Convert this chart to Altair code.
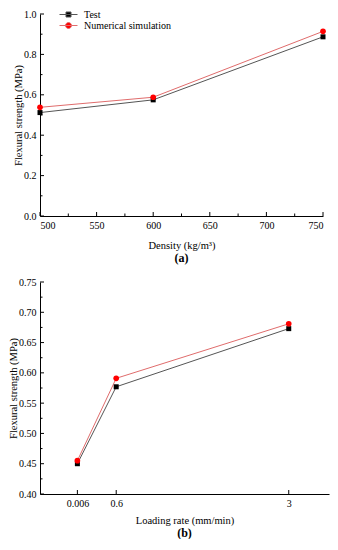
import altair as alt
import pandas as pd

# ---------------- data ----------------
series = ["Test", "Numerical simulation"]

density = [500, 600, 750]
test_a = [0.512, 0.575, 0.887]
sim_a = [0.538, 0.588, 0.914]

rate_pos = [0.06, 0.6, 3.0]
rate_labels = ["0.006", "0.6", "3"]
test_b = [0.450, 0.577, 0.673]
sim_b = [0.455, 0.591, 0.681]

# tick lists
xa_major = [500, 550, 600, 650, 700, 750]
xa_minor = [525, 575, 625, 675, 725]
ya_major = [0.0, 0.2, 0.4, 0.6, 0.8, 1.0]
ya_minor = [0.1, 0.3, 0.5, 0.7, 0.9]

xb_major = [0.06, 0.6, 3.0]
yb_major = [0.40, 0.45, 0.50, 0.55, 0.60, 0.65, 0.70, 0.75]
yb_minor = [0.425, 0.475, 0.525, 0.575, 0.625, 0.675, 0.725]

FONT = "Liberation Serif, Times New Roman, DejaVu Serif, serif"

df_a = pd.DataFrame({
    "x": density * 2,
    "y": test_a + sim_a,
    "series": [series[0]] * 3 + [series[1]] * 3,
})
df_b = pd.DataFrame({
    "x": rate_pos * 2,
    "y": test_b + sim_b,
    "series": [series[0]] * 3 + [series[1]] * 3,
})

LINE_COLORS = ["#555555", "#e06c6c"]
MARK_COLORS = ["#000000", "#ff0000"]
PATH_SQ = "M-1.8,0H1.8M-0.5,-0.5H0.5V0.5H-0.5Z"
PATH_CI = "M-1.8,0H1.8M0.6,0A0.6,0.6,0,1,1,-0.6,0A0.6,0.6,0,1,1,0.6,0Z"


def panel(df, xdomain, xvalues, xlabelexpr, xfmt, xmajor, xminor,
          ydomain, yvalues, yfmt, ymajor, yminor,
          xtitle, xtitlepad, tag, w, h, lx, ly, rowpad):
    xs = alt.Scale(domain=xdomain, nice=False, zero=False)
    ys = alt.Scale(domain=ydomain, nice=False, zero=False)
    stroke_scale = alt.Scale(domain=series, range=LINE_COLORS)
    fill_scale = alt.Scale(domain=series, range=MARK_COLORS)
    shape_scale = alt.Scale(domain=series, range=[PATH_SQ, PATH_CI])

    xaxis_kw = dict(title=xtitle, values=xvalues, ticks=False, grid=False,
                    labelPadding=4, titlePadding=xtitlepad,
                    domainColor="black", labelFontSize=10, titleFontSize=10.5)
    if xlabelexpr:
        xaxis_kw["labelExpr"] = xlabelexpr
    else:
        xaxis_kw["format"] = xfmt
    xaxis = alt.Axis(**xaxis_kw)
    yaxis = alt.Axis(title="Flexural strength (MPa)", values=yvalues, format=yfmt,
                     ticks=False, grid=False, labelPadding=4, titlePadding=0,
                     domainColor="black", labelFontSize=10, titleFontSize=10.5)

    X = alt.X("x:Q", scale=xs, axis=xaxis)
    Y = alt.Y("y:Q", scale=ys, axis=yaxis)

    leg = alt.Legend(title=None, orient="none", legendX=lx, legendY=ly,
                     symbolSize=100, symbolStrokeWidth=1, symbolOpacity=1,
                     labelOffset=10, rowPadding=rowpad, labelFont=FONT,
                     labelFontSize=10, labelColor="black", padding=0)

    base = alt.Chart(df)
    layers = []
    for s, c in zip(series, LINE_COLORS):
        layers.append(base.transform_filter(alt.datum.series == s).mark_line(
            strokeWidth=1, color=c).encode(x=X, y=Y))

    def xt(vals, L):
        return alt.Chart(pd.DataFrame({"x": vals})).mark_rule(
            color="black", strokeWidth=1).encode(
            x=X, y=alt.value(h), y2=alt.value(h - L))

    def yt(vals, L):
        return alt.Chart(pd.DataFrame({"y": vals})).mark_rule(
            color="black", strokeWidth=1).encode(
            y=Y, x=alt.value(0), x2=alt.value(L))

    layers.append(xt(xmajor, 4))
    if xminor:
        layers.append(xt(xminor, 2.5))
    layers.append(yt(ymajor, 4))
    if yminor:
        layers.append(yt(yminor, 2.5))

    layers.append(base.transform_filter(alt.datum.series == series[0]).mark_square(
        size=25, opacity=1, color=MARK_COLORS[0]).encode(x=X, y=Y))
    layers.append(base.transform_filter(alt.datum.series == series[1]).mark_circle(
        size=32, opacity=1, color=MARK_COLORS[1]).encode(x=X, y=Y))
    layers.append(base.mark_point(filled=True, opacity=0).encode(
        x=X, y=Y,
        color=alt.Color("series:N", scale=fill_scale, legend=leg),
        stroke=alt.Stroke("series:N", scale=stroke_scale, legend=leg),
        shape=alt.Shape("series:N", scale=shape_scale, legend=leg)))

    return alt.layer(*layers).properties(
        width=w, height=h,
        title=alt.TitleParams(tag, orient="bottom", fontSize=12, fontWeight="bold",
                              font=FONT, color="black", offset=2),
    )


# bottom x labels expression from the label lists
expr = "'" + rate_labels[-1] + "'"
for p, lab in reversed(list(zip(rate_pos[:-1], rate_labels[:-1]))):
    expr = f"datum.value == {p} ? '{lab}' : " + expr

top = panel(df_a, [500, 750], xa_major, None, "d", xa_major, xa_minor,
            [0, 1.0], ya_major, ".1f", ya_major, ya_minor,
            "Density (kg/m\u00b3)", 10, "(a)", 283, 202, 23, -5, 0)
bottom = panel(df_b, [-0.46, 3.56], xb_major, expr, None, xb_major, None,
               [0.40, 0.75], yb_major, ".2f", yb_major, yb_minor,
               "Loading rate (mm/min)", 7, "(b)", 289, 212, 40, 0, 2)

chart = alt.vconcat(top, bottom, spacing=12, padding=0).configure_view(
    stroke="transparent"
).configure_axis(
    labelFont=FONT, titleFont=FONT, labelColor="black", titleColor="black",
    titleFontWeight="normal", domainWidth=1
)

chart.save("out.html", embed_options={"renderer": "svg", "actions": False})
